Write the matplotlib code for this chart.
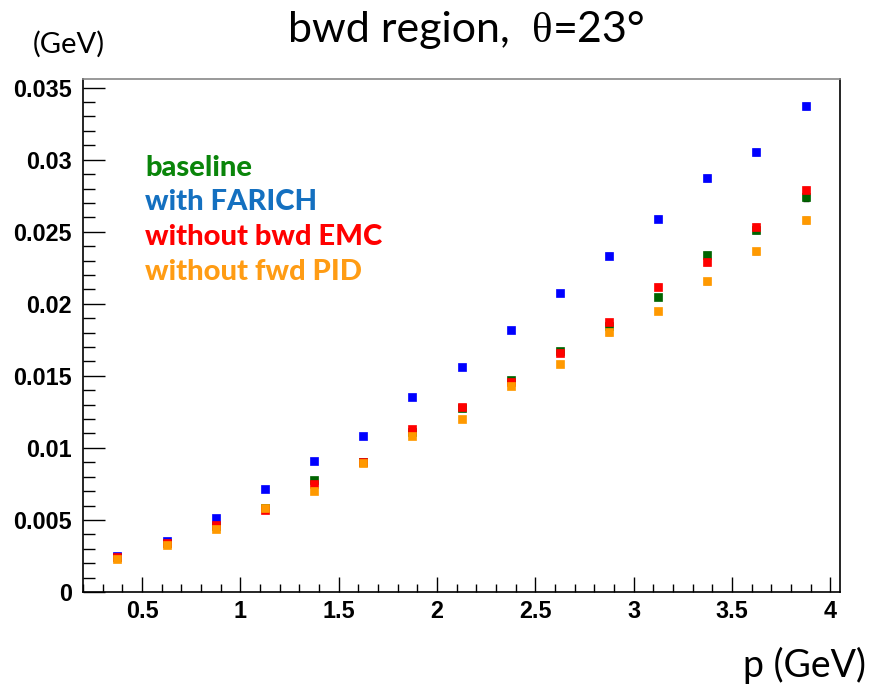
import matplotlib
matplotlib.use("Agg")
import matplotlib.pyplot as plt
from matplotlib.ticker import MultipleLocator, FixedLocator, FixedFormatter

# ---- data ----
p = [0.375, 0.625, 0.875, 1.125, 1.375, 1.625, 1.875, 2.125, 2.375, 2.625,
     2.875, 3.125, 3.375, 3.625, 3.875]
baseline = [0.0024, 0.0034, 0.0046, 0.0058, 0.00778, 0.0090, 0.0111, 0.0128,
            0.0147, 0.0167, 0.01843, 0.02046, 0.0234, 0.02509, 0.02738]
farich = [0.0025, 0.00352, 0.00516, 0.00713, 0.00912, 0.01081, 0.01354, 0.0156,
          0.01819, 0.02072, 0.02335, 0.0259, 0.02873, 0.03056, 0.03373]
no_bwd_emc = [0.0024, 0.0034, 0.00465, 0.0057, 0.00752, 0.00905, 0.0113, 0.01287,
              0.0146, 0.01662, 0.01873, 0.02118, 0.0229, 0.02533, 0.0279]
no_fwd_pid = [0.00229, 0.00326, 0.00437, 0.00585, 0.00703, 0.00894, 0.01083, 0.01204,
              0.01433, 0.01581, 0.01801, 0.01951, 0.02155, 0.02363, 0.02581]
err = [0.00005, 0.00005, 0.00006, 0.00007, 0.00008, 0.00009, 0.0001, 0.00011,
       0.00012, 0.00013, 0.00015, 0.00016, 0.00018, 0.0002, 0.00022]

labels = ["baseline", "with FARICH", "without bwd EMC", "without fwd PID"]
marker_colors = ["#006400", "#0000ff", "#ff0000", "#ff9900"]
text_colors = ["#0a850a", "#1470c0", "#ff0000", "#ff9c14"]
series = [baseline, farich, no_bwd_emc, no_fwd_pid]

ytick_vals = [0, 0.005, 0.01, 0.015, 0.02, 0.025, 0.03, 0.035]
ytick_labels = ["0", "0.005", "0.01", "0.015", "0.02", "0.025", "0.03", "0.035"]
xtick_vals = [0.5, 1, 1.5, 2, 2.5, 3, 3.5, 4]
xtick_labels = ["0.5", "1", "1.5", "2", "2.5", "3", "3.5", "4"]

fig = plt.figure(figsize=(8.8, 6.91), dpi=100)
ax = fig.add_axes([83/880, 1 - 592/691, (840-83)/880, (592-79)/691])

for ys in series:
    ax.errorbar(p, ys, yerr=err, fmt="none", ecolor="black", elinewidth=1,
                capsize=2, capthick=1, zorder=2)
for i, (ys, mc) in enumerate(zip(series, marker_colors)):
    ax.plot(p, ys, linestyle="none", marker="s", markersize=6.3,
            markerfacecolor=mc, markeredgecolor=mc, markeredgewidth=0.5,
            zorder=3 + i)

ax.set_xlim(0.2, 4.05)
ax.set_ylim(0, 0.0356)

ax.yaxis.set_major_locator(FixedLocator(ytick_vals))
ax.yaxis.set_major_formatter(FixedFormatter(ytick_labels))
ax.yaxis.set_minor_locator(MultipleLocator(0.001))
ax.xaxis.set_major_locator(FixedLocator(xtick_vals))
ax.xaxis.set_major_formatter(FixedFormatter(xtick_labels))
ax.xaxis.set_minor_locator(MultipleLocator(0.1))

ax.tick_params(axis="y", which="major", direction="in", length=16, width=1, pad=8)
ax.tick_params(axis="y", which="minor", direction="in", length=8.5, width=1)
ax.tick_params(axis="x", which="major", direction="in", length=11, width=1, pad=6)
ax.tick_params(axis="x", which="minor", direction="in", length=5.5, width=1)
for lab in ax.get_xticklabels() + ax.get_yticklabels():
    lab.set_fontfamily("Liberation Sans")
    lab.set_fontweight("bold")
    lab.set_fontsize(16.8)

for s in ax.spines.values():
    s.set_linewidth(1.2)
    s.set_color("black")
ax.spines["top"].set_color("#888888")

# legend-like text
for k, (lab, tc) in enumerate(zip(labels, text_colors)):
    fig.text(145/880, 1 - (176 + 34.5*k)/691, lab, color=tc, fontsize=21,
             fontweight="black", family="Lato", ha="left", va="baseline")

# title built from pieces (serif theta)
renderer = fig.canvas.get_renderer()
parts = [("bwd region,  ", "Lato"), ("\u03b8", "Liberation Serif"), ("=23\u00b0", "Lato")]
ty = 1 - 42/691
texts = []
for s, fam in parts:
    texts.append(fig.text(0, ty, s, fontsize=31, family=fam, ha="left", va="baseline"))
widths = [t.get_window_extent(renderer).width for t in texts]
total = sum(widths)
x0 = 467 - total / 2
for t, w in zip(texts, widths):
    t.set_x(x0 / 880)
    x0 += w

fig.text(69/880, 1 - 53/691, "(GeV)", fontsize=21, family="Lato",
         ha="center", va="baseline")
fig.text(866/880, 1 - 677/691, "p (GeV)", fontsize=27, family="Lato",
         ha="right", va="baseline")

fig.savefig("out.png", dpi=100)
